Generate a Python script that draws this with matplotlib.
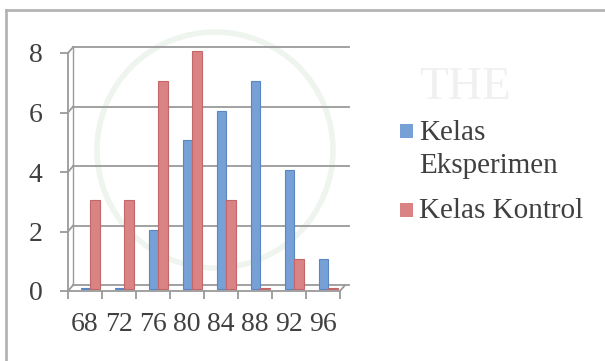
import matplotlib
matplotlib.use("Agg")
import matplotlib.pyplot as plt
from matplotlib.patches import Rectangle, Ellipse
from matplotlib.lines import Line2D

# ---- data ----
categories = ["68", "72", "76", "80", "84", "88", "92", "96"]
eksperimen = [0, 0, 2, 5, 6, 7, 4, 1]
kontrol = [3, 3, 7, 8, 3, 0, 1, 0]
series_names = ["Kelas\nEksperimen", "Kelas Kontrol"]
yticks = [0, 2, 4, 6, 8]

W, H = 605, 361
def fx(p): return p / W
def fy(p): return 1 - p / H

plt.rcParams['font.family'] = ['Liberation Serif', 'DejaVu Serif']
fig = plt.figure(figsize=(W / 100, H / 100), dpi=100)
fig.patch.set_facecolor('white')

# ---- faint watermark ----
fig.add_artist(Ellipse((fx(215), fy(150)), 2 * 118 / W, 2 * 118 / H, transform=fig.transFigure,
                       fill=False, edgecolor='#eef4ee', lw=4, zorder=0))
fig.text(fx(465), fy(88), "THE", fontsize=34, color='#f0f0f0', ha='center', va='center', zorder=0)

# ---- frame ----
gray_frame = '#b4b4b4'
fig.add_artist(Line2D([fx(6), fx(6)], [fy(10), 0], transform=fig.transFigure, color=gray_frame, lw=2))
fig.add_artist(Line2D([fx(6), 1], [fy(10), fy(10)], transform=fig.transFigure, color=gray_frame, lw=2))

# ---- axes ----
ax = fig.add_axes([fx(68), 1 - (291) / H, 272 / W, 238 / H])
ax.patch.set_visible(False)
n = len(categories)
ax.set_xlim(-0.5, n - 0.5)
ax.set_ylim(0, 8)

grid_c = '#9a9a9a'
dx, dy = 0.15, 0.2
right_end = n - 0.5 + dx + 0.12
for v in yticks:
    ax.plot([-0.5, -0.5 + dx], [v, v + dy], color=grid_c, lw=1.3, clip_on=False, zorder=1)
    ax.plot([-0.5 + dx, right_end], [v + dy, v + dy], color=grid_c, lw=1.3, clip_on=False, zorder=1)
# back wall left edge
ax.plot([-0.5 + dx, -0.5 + dx], [dy, 8 + dy], color=grid_c, lw=1.0, clip_on=False, zorder=1)
# floor right edge
ax.plot([n - 0.5, n - 0.5 + dx], [0, dy], color=grid_c, lw=1.3, clip_on=False, zorder=1)

for s in ['top', 'right']:
    ax.spines[s].set_visible(False)
for s in ['left', 'bottom']:
    ax.spines[s].set_color(grid_c)
    ax.spines[s].set_linewidth(1.3)

# ---- bars ----
bw = 0.28
shift = 0.16
base = 0.06
blue_face, blue_edge = '#76a0d6', '#5a86c2'
red_face, red_edge = '#d98384', '#c4676a'
xs = list(range(n))
e_h = [v if v > 0 else 0.05 for v in eksperimen]
k_h = [v if v > 0 else 0.05 for v in kontrol]
ax.bar([x + shift - bw / 2 for x in xs], e_h, width=bw, bottom=base,
       color=blue_face, edgecolor=blue_edge, lw=0.8, zorder=3, clip_on=False)
ax.bar([x + shift + bw / 2 for x in xs], k_h, width=bw, bottom=base,
       color=red_face, edgecolor=red_edge, lw=0.8, zorder=3, clip_on=False)

# ---- ticks ----
ax.set_yticks(yticks)
ax.set_yticklabels([str(v) for v in yticks])
ax.tick_params(axis='y', direction='out', length=5.8, width=1.3, color=grid_c,
               pad=12.5, labelsize=20, labelcolor='#404040')
ax.set_xticks(xs)
ax.set_xticklabels(categories)
ax.set_xticks([x - 0.5 for x in range(n + 1)], minor=True)
ax.tick_params(axis='x', which='major', length=0, pad=15, labelsize=20, labelcolor='#404040')
ax.tick_params(axis='x', which='minor', direction='out', length=5.8, width=1.3, color=grid_c)

# ---- legend ----
fig.add_artist(Rectangle((fx(400), fy(138)), 13 / W, 14 / H, transform=fig.transFigure,
                         facecolor=blue_face, edgecolor='none'))
fig.add_artist(Rectangle((fx(400), fy(217)), 13 / W, 14 / H, transform=fig.transFigure,
                         facecolor=red_face, edgecolor='none'))
fig.text(fx(419), fy(140), "Kelas", fontsize=21, color='#404040', ha='left', va='baseline')
fig.text(fx(419), fy(173), "Eksperimen", fontsize=21, color='#404040', ha='left', va='baseline')
fig.text(fx(419), fy(218), series_names[1], fontsize=21, color='#404040', ha='left', va='baseline')

fig.savefig("out.png", dpi=100, facecolor='white')
